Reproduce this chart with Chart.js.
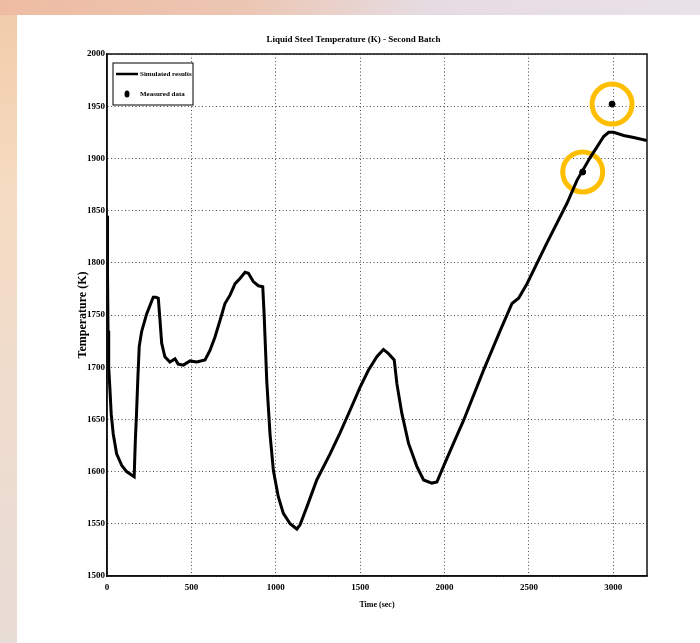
<!DOCTYPE html>
<html>
<head>
<meta charset="utf-8">
<title>Liquid Steel Temperature (K) - Second Batch</title>
<script src="https://cdn.jsdelivr.net/npm/chart.js@4.4.1/dist/chart.umd.min.js"></script>
<style>
    html, body { margin: 0; padding: 0; }
    body {
        width: 700px;
        height: 643px;
        position: relative;
        overflow: hidden;
        background: linear-gradient(180deg, #f2cba8 0%, #f5dcc2 30%, #efdccd 60%, #e8dcd6 100%);
    }
    #tira { position: absolute; left: 0; top: 0; width: 700px; height: 15px;
        background: linear-gradient(90deg, #eebca2 0%, #ecc6b3 35%, #e6dbe0 60%, #e9e2e8 100%); }
    #panel { position: absolute; left: 17px; top: 15px; width: 683px; height: 628px; background: #fff; }
    canvas { position: absolute; left: 0; top: 0; }
</style>
</head>
<body>
<div id="tira"></div>
<div id="panel"></div>
<canvas id="temperatura" width="700" height="643"></canvas>
<script>
// curva simulada (s, K)
const simTime = [0, 3, 6, 10, 17, 25, 37, 57, 87, 116, 161, 168, 175, 183, 191, 205, 235, 274, 290, 304,
    314, 324, 343, 373, 403, 422, 452, 492, 531, 581, 610, 640, 670, 699, 729, 759, 788, 818, 838, 867,
    897, 923, 931, 947, 966, 986, 1015, 1045, 1085, 1125, 1144, 1184, 1243, 1322, 1381, 1441, 1500, 1549,
    1599, 1638, 1668, 1702, 1718, 1747, 1787, 1836, 1876, 1925, 1955, 1994, 2053, 2113, 2231, 2330, 2400,
    2439, 2489, 2607, 2726, 2785, 2864, 2904, 2943, 2973, 3002, 3062, 3121, 3200];
const simTemp = [1845, 1790, 1735, 1700, 1680, 1655, 1636, 1617, 1606, 1600, 1595, 1630, 1656, 1690, 1720,
    1734, 1751, 1767, 1767, 1766, 1745, 1723, 1710, 1705, 1708, 1703, 1702, 1706, 1705, 1707, 1716, 1729,
    1745, 1761, 1769, 1780, 1785, 1791, 1790, 1782, 1778, 1777, 1751, 1686, 1636, 1601, 1576, 1560, 1550,
    1545, 1549, 1566, 1592, 1617, 1637, 1659, 1681, 1697, 1710, 1717, 1713, 1707, 1684, 1656, 1627, 1605,
    1592, 1589, 1590, 1605, 1627, 1649, 1697, 1735, 1761, 1766, 1780, 1819, 1857, 1879, 1901, 1911, 1921,
    1925, 1925, 1922, 1920, 1917];
// datos medidos
const measTime = [2819, 2993];
const measTemp = [1887, 1952];
// ejes
const xTicks = [0, 500, 1000, 1500, 2000, 2500, 3000];
const yTicks = [1500, 1550, 1600, 1650, 1700, 1750, 1800, 1850, 1900, 1950, 2000];

const serif = "'Liberation Serif', 'Times New Roman', serif";

function puntos(xs, ys) {
    let res = [];
    for (let i = 0; i < xs.length; i++) {
        res.push({ x: xs[i], y: ys[i] });
    }
    return res;
}

// marco completo + leyenda dentro del area
const marco = {
    id: "marco",
    afterDraw(chart) {
        const { ctx, chartArea: a } = chart;
        ctx.save();
        ctx.strokeStyle = "#111";
        ctx.lineWidth = 1.5;
        ctx.strokeRect(a.left, a.top, a.right - a.left, a.bottom - a.top);

        const bx = a.left + 6, by = a.top + 9, bw = 80, bh = 42;
        ctx.fillStyle = "#fff";
        ctx.fillRect(bx, by, bw, bh);
        ctx.lineWidth = 1;
        ctx.strokeStyle = "#000";
        ctx.strokeRect(bx, by, bw, bh);

        const sim = chart.data.datasets[1];
        const med = chart.data.datasets[0];
        ctx.strokeStyle = "#000";
        ctx.lineWidth = 2.5;
        ctx.beginPath();
        ctx.moveTo(bx + 3, by + 11);
        ctx.lineTo(bx + 25, by + 11);
        ctx.stroke();
        ctx.fillStyle = "#000";
        ctx.beginPath();
        ctx.ellipse(bx + 14, by + 31, 2.5, 3.5, 0, 0, Math.PI * 2);
        ctx.fill();

        ctx.font = "bold 7px " + serif;
        ctx.textBaseline = "middle";
        ctx.fillText(sim.label, bx + 27, by + 11);
        ctx.fillText(med.label, bx + 27, by + 31);
        ctx.restore();
    }
};

const ctx = document.getElementById("temperatura").getContext("2d");
const myChart = new Chart(ctx, {
    type: "scatter",
    data: {
        datasets: [{
                label: "Measured data",
                data: puntos(measTime, measTemp),
                pointStyle: "circle",
                pointRadius: 3,
                backgroundColor: "#000",
                borderColor: "#000",
                order: 0,
            },
            {
                label: "Simulated results",
                data: puntos(simTime, simTemp),
                showLine: true,
                borderColor: "#000",
                borderWidth: 3,
                pointRadius: 0,
                tension: 0,
                order: 1,
            },
            {
                label: "marcas",
                data: puntos(measTime, measTemp),
                pointStyle: "circle",
                pointRadius: 20,
                borderWidth: 5,
                borderColor: "#ffbf00",
                backgroundColor: "rgba(0,0,0,0)",
                order: 2,
            },
        ],
    },
    options: {
        responsive: false,
        animation: false,
        layout: {
            padding: { left: 60, right: 53, top: 30, bottom: 27 },
        },
        plugins: {
            legend: { display: false },
            tooltip: { enabled: false },
            title: {
                display: true,
                text: "Liquid Steel Temperature (K) - Second Batch",
                color: "#000",
                font: { family: serif, size: 9, weight: "bold" },
                padding: { top: 4.6, bottom: 8.6 },
            },
        },
        scales: {
            x: {
                type: "linear",
                min: 0,
                max: 3200,
                afterBuildTicks: (s) => { s.ticks = xTicks.map(v => ({ value: v })); },
                afterFit: (s) => { s.height = 40; },
                ticks: {
                    color: "#000",
                    padding: 6,
                    font: { family: serif, size: 9, weight: "bold" },
                    callback: (v) => String(v),
                },
                grid: { color: "#222", lineWidth: 0.8, drawTicks: false },
                border: { color: "#111", width: 1.5, dash: [1, 2.5] },
                title: {
                    display: true,
                    text: "Time (sec)",
                    color: "#000",
                    font: { family: serif, size: 8, weight: "bold" },
                    padding: { top: 0, bottom: 6 },
                },
            },
            y: {
                type: "linear",
                min: 1500,
                max: 2000,
                afterBuildTicks: (s) => { s.ticks = yTicks.map(v => ({ value: v })); },
                afterFit: (s) => { s.width = 47; },
                ticks: {
                    color: "#000",
                    padding: 2,
                    font: { family: serif, size: 9, weight: "bold" },
                    callback: (v) => String(v),
                },
                grid: { color: "#222", lineWidth: 0.8, drawTicks: false },
                border: { color: "#111", width: 1.5, dash: [1, 2.5] },
                title: {
                    display: true,
                    text: "Temperature (K)",
                    color: "#000",
                    font: { family: serif, size: 12, weight: "bold" },
                    padding: { top: 16, bottom: 0 },
                },
            },
        },
    },
    plugins: [marco],
});
</script>
</body>
</html>
